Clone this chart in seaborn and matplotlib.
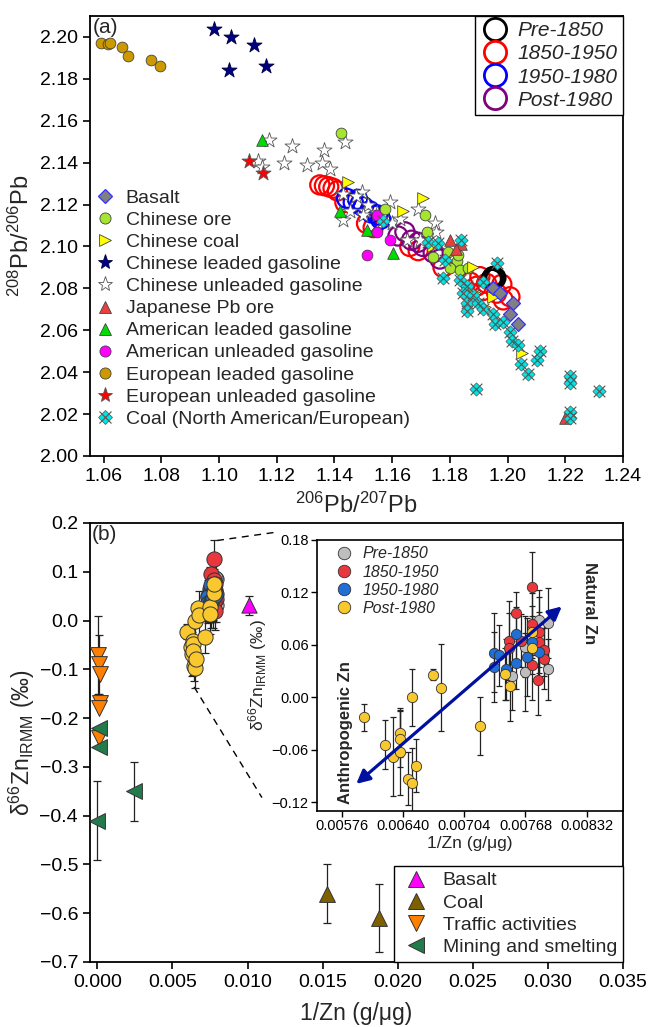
import numpy as np
import pandas as pd
import matplotlib
matplotlib.use("Agg")
import matplotlib.pyplot as plt
from matplotlib.lines import Line2D
import seaborn as sns

# ---------------- Panel (a) data: 206Pb/207Pb vs 208Pb/206Pb ----------------
basalt_x = [1.1950, 1.1973, 1.2020, 1.2008, 1.2037]
basalt_y = [2.080, 2.078, 2.073, 2.068, 2.063]
cn_ore_x = [1.1424, 1.1575, 1.1713, 1.1719, 1.1742, 1.1794, 1.1823, 1.1800, 1.1835, 1.1863, 1.1829]
cn_ore_y = [2.154, 2.118, 2.115, 2.107, 2.095, 2.0975, 2.093, 2.0896, 2.089, 2.0896, 2.096]
cn_coal_x = [1.1447, 1.1707, 1.1638, 1.1740, 1.1880, 1.1887, 1.1950, 1.1921, 1.2049]
cn_coal_y = [2.131, 2.123, 2.117, 2.100, 2.090, 2.0777, 2.076, 2.071, 2.049]
cn_leaded_x = [1.0983, 1.1043, 1.1121, 1.1164, 1.1034]
cn_leaded_y = [2.204, 2.200, 2.196, 2.186, 2.184]
cn_unleaded_x = [1.1173, 1.1253, 1.1363, 1.1436, 1.1224, 1.1135, 1.1147, 1.1303, 1.1355, 1.1384,
                 1.1430, 1.1494, 1.1476, 1.1505, 1.1517, 1.1453, 1.1430, 1.1499, 1.1546, 1.1592,
                 1.1600, 1.1627, 1.1690, 1.1748, 1.1753, 1.1696, 1.1650]
cn_unleaded_y = [2.151, 2.148, 2.146, 2.150, 2.140, 2.141, 2.138, 2.139, 2.140, 2.137,
                 2.125, 2.126, 2.124, 2.117, 2.120, 2.117, 2.1127, 2.115, 2.116, 2.121,
                 2.111, 2.113, 2.118, 2.111, 2.107, 2.103, 2.103]
jp_ore_x = [1.1800, 1.1840, 1.1820, 1.2199]
jp_ore_y = [2.103, 2.101, 2.099, 2.018]
am_leaded_x = [1.1150, 1.1418, 1.1511, 1.1603]
am_leaded_y = [2.151, 2.117, 2.108, 2.097]
am_unleaded_x = [1.1511, 1.1546, 1.1592, 1.1546]
am_unleaded_y = [2.096, 2.107, 2.103, 2.115]
eu_leaded_x = [1.0592, 1.0615, 1.0623, 1.0663, 1.0684, 1.0763, 1.0794]
eu_leaded_y = [2.197, 2.1965, 2.197, 2.195, 2.191, 2.189, 2.186]
eu_unleaded_x = [1.1103, 1.1152]
eu_unleaded_y = [2.141, 2.135]
coal_x = [1.1568, 1.1725, 1.1760, 1.1783, 1.1840, 1.1777, 1.1835, 1.1858, 1.1846, 1.1881,
          1.1858, 1.1898, 1.1858, 1.1915, 1.1950, 1.1956, 1.1985, 1.2008, 1.2014, 1.2037,
          1.2048, 1.2072, 1.2101, 1.2112, 1.1892, 1.2216, 1.2216, 1.2318, 1.2216, 1.2216,
          1.1962, 1.1914]
coal_y = [2.112, 2.102, 2.1015, 2.0936, 2.103, 2.085, 2.084, 2.081, 2.078, 2.077,
          2.073, 2.073, 2.069, 2.070, 2.068, 2.063, 2.064, 2.059, 2.055, 2.053,
          2.044, 2.039, 2.046, 2.050, 2.032, 2.038, 2.035, 2.031, 2.021, 2.018,
          2.092, 2.083]
# soil cores (open rings)
pre1850_x = [1.1945, 1.1950, 1.1958]
pre1850_y = [2.0845, 2.0855, 2.0850]
r1850_x = [1.1349, 1.1365, 1.1380, 1.1395, 1.1410, 1.1436, 1.1511, 1.1534, 1.1661, 1.1690,
           1.1776, 1.1870, 1.1892, 1.1904, 1.1927, 1.1962, 1.1985, 1.2008, 1.1980, 1.1915]
r1850_y = [2.1294, 2.1290, 2.1285, 2.1278, 2.1265, 2.1210, 2.111, 2.109, 2.100, 2.098,
           2.090, 2.083, 2.081, 2.0856, 2.0824, 2.0777, 2.0745, 2.076, 2.082, 2.079]
b1950_x = [1.1442, 1.1465, 1.1480, 1.1488, 1.1500, 1.1522, 1.1528, 1.1550, 1.1560]
b1950_y = [2.123, 2.121, 2.1225, 2.120, 2.119, 2.117, 2.116, 2.115, 2.113]
p1980_x = [1.1620, 1.1644, 1.1667, 1.1690, 1.1707, 1.1742, 1.1765]
p1980_y = [2.105, 2.107, 2.103, 2.102, 2.100, 2.097, 2.094]

a_xticks = [1.06, 1.08, 1.10, 1.12, 1.14, 1.16, 1.18, 1.20, 1.22, 1.24]
a_xticklabels = ["1.06", "1.08", "1.10", "1.12", "1.14", "1.16", "1.18", "1.20", "1.22", "1.24"]
a_yticks = [2.00, 2.02, 2.04, 2.06, 2.08, 2.10, 2.12, 2.14, 2.16, 2.18, 2.20]
a_yticklabels = ["2.00", "2.02", "2.04", "2.06", "2.08", "2.10", "2.12", "2.14", "2.16", "2.18", "2.20"]

# ---------------- Panel (b) data: 1/Zn vs d66Zn ----------------
pre_zx = [0.00792, 0.00792, 0.00768, 0.00768, 0.00782, 0.00754]
pre_zy = [0.085, 0.032, 0.029, 0.058, 0.088, 0.025]
pre_err = [0.040, 0.035, 0.045, 0.035, 0.035, 0.040]
red_zx = [0.00775, 0.00758, 0.00775, 0.00782, 0.00751, 0.00763, 0.00751, 0.00782, 0.00787, 0.00787, 0.00775, 0.00781]
red_zy = [0.126, 0.096, 0.084, 0.075, 0.065, 0.065, 0.056, 0.063, 0.054, 0.044, 0.037, 0.020]
red_err = [0.040, 0.025, 0.035, 0.040, 0.045, 0.030, 0.040, 0.035, 0.030, 0.035, 0.040, 0.040]
blue_zx = [0.00758, 0.00735, 0.00740, 0.00735, 0.00758, 0.00748, 0.00770, 0.00775, 0.00782]
blue_zy = [0.073, 0.051, 0.048, 0.035, 0.039, 0.032, 0.046, 0.063, 0.052]
blue_err = [0.030, 0.045, 0.035, 0.040, 0.030, 0.035, 0.045, 0.030, 0.035]
yel_zx = [0.00599, 0.00621, 0.00629, 0.00637, 0.00637, 0.00637, 0.00645, 0.00649, 0.00654,
          0.00649, 0.00671, 0.00680, 0.00720, 0.00747, 0.00752, 0.00775, 0.00775]
yel_zy = [-0.023, -0.054, -0.068, -0.041, -0.048, -0.062, -0.093, -0.098, -0.078,
          0.000, 0.026, 0.011, -0.033, 0.027, 0.013, 0.057, 0.075]
yel_err = [0.015, 0.028, 0.045, 0.027, 0.032, 0.050, 0.030, 0.040, 0.030,
           0.033, 0.006, 0.050, 0.033, 0.030, 0.040, 0.030, 0.030]

basalt_zx = [0.0101]
basalt_zy = [0.031]
basalt_err = [0.020]
coalb_zx = [0.01527, 0.01873]
coalb_zy = [-0.56, -0.61]
coalb_err = [0.06, 0.07]
traffic_zx = [0.00005, 0.00010, 0.00015, 0.00020, 0.00010, 0.00010]
traffic_zy = [-0.07, -0.09, -0.11, -0.17, -0.18, -0.24]
traffic_err = [0.08, 0.06, 0.0, 0.0, 0.0, 0.0]
mining_zx = [0.0001, 0.0001, 0.0000, 0.00246]
mining_zy = [-0.22, -0.26, -0.41, -0.35]
mining_err = [0.0, 0.0, 0.08, 0.06]

b_xticks = [0.000, 0.005, 0.010, 0.015, 0.020, 0.025, 0.030, 0.035]
b_xticklabels = ["0.000", "0.005", "0.010", "0.015", "0.020", "0.025", "0.030", "0.035"]
b_yticks = [-0.7, -0.6, -0.5, -0.4, -0.3, -0.2, -0.1, 0.0, 0.1, 0.2]
b_yticklabels = ["\u22120.7", "\u22120.6", "\u22120.5", "\u22120.4", "\u22120.3", "\u22120.2", "\u22120.1", "0.0", "0.1", "0.2"]
in_xticks = [0.00576, 0.00640, 0.00704, 0.00768, 0.00832]
in_xticklabels = ["0.00576", "0.00640", "0.00704", "0.00768", "0.00832"]
in_yticks = [-0.12, -0.06, 0.00, 0.06, 0.12, 0.18]
in_yticklabels = ["\u22120.12", "\u22120.06", "0.00", "0.06", "0.12", "0.18"]

# ---------------- style ----------------
sns.set_style("ticks")
plt.rcParams['font.family'] = ['Liberation Sans', 'DejaVu Sans']
plt.rcParams['mathtext.fontset'] = 'custom'
plt.rcParams['mathtext.rm'] = 'Liberation Sans'
plt.rcParams['mathtext.it'] = 'Liberation Sans:italic'
plt.rcParams['axes.edgecolor'] = 'black'
plt.rcParams['axes.linewidth'] = 1.3
plt.rcParams['xtick.color'] = 'black'
plt.rcParams['ytick.color'] = 'black'

fig = plt.figure(figsize=(6.51, 10.27), dpi=100)
ax_a = fig.add_axes([0.138, 0.556, 0.819, 0.4284])
ax_b = fig.add_axes([0.138, 0.0633, 0.819, 0.4275])
ax_in = fig.add_axes([0.487, 0.2103, 0.470, 0.2639])

EC = '#444444'


def sc(ax, x, y, marker, s, fc, ec=EC, lw=0.6, z=3):
    sns.scatterplot(x=x, y=y, ax=ax, marker=marker, s=s, color=fc, edgecolor=ec,
                    linewidth=lw, zorder=z, legend=False)


def ring(ax, x, y, c, s=190, lw=1.6, z=2):
    sns.scatterplot(x=x, y=y, ax=ax, marker='o', s=s, facecolors='none', edgecolor=c,
                    linewidth=lw, zorder=z, legend=False)


# ---------------- Panel (a) ----------------
ring(ax_a, r1850_x, r1850_y, '#FF0000')
ring(ax_a, b1950_x, b1950_y, '#0000FF')
ring(ax_a, p1980_x, p1980_y, '#800080')
ring(ax_a, pre1850_x, pre1850_y, '#000000', lw=2.2)

sc(ax_a, eu_leaded_x, eu_leaded_y, 'o', 60, '#CC9900')
sc(ax_a, cn_leaded_x, cn_leaded_y, '*', 130, '#000080', ec='#000040')
sc(ax_a, cn_unleaded_x, cn_unleaded_y, '*', 130, 'white', ec='#555555')
sc(ax_a, eu_unleaded_x, eu_unleaded_y, '*', 130, '#FF0000', ec='#555555')
sc(ax_a, am_leaded_x, am_leaded_y, '^', 70, '#00DD00')
sc(ax_a, am_unleaded_x, am_unleaded_y, 'o', 60, '#FF00FF')
sc(ax_a, cn_ore_x, cn_ore_y, 'o', 60, '#A5E52F')
sc(ax_a, cn_coal_x, cn_coal_y, '>', 70, '#FFFF00')
sc(ax_a, jp_ore_x, jp_ore_y, '^', 70, '#E84040')
sc(ax_a, coal_x, coal_y, 'D', 45, '#00E5E5', ec='#555555', lw=0.5, z=4)
sns.scatterplot(x=coal_x, y=coal_y, ax=ax_a, marker='x', s=70, color='#555555',
                linewidth=0.8, zorder=4, legend=False)
sc(ax_a, basalt_x, basalt_y, 'D', 50, '#808080', ec='#3333FF', lw=0.9, z=5)

ax_a.set_xlim(1.0552, 1.24)
ax_a.set_ylim(2.0, 2.21)
ax_a.set_xticks(a_xticks)
ax_a.set_xticklabels(a_xticklabels)
ax_a.set_yticks(a_yticks)
ax_a.set_yticklabels(a_yticklabels)
ax_a.tick_params(labelsize=14, length=5, width=1.2)
ax_a.set_xlabel(r"$^{206}$Pb/$^{207}$Pb", fontsize=17, labelpad=6)
ax_a.set_ylabel(r"$^{208}$Pb/$^{206}$Pb", fontsize=17, labelpad=4)
ax_a.text(0.006, 0.995, "(a)", transform=ax_a.transAxes, fontsize=15, va='top', ha='left')


def mk(marker, fc, ec=EC, ms=8, mew=0.6):
    return Line2D([], [], linestyle='', marker=marker, markersize=ms, markerfacecolor=fc,
                  markeredgecolor=ec, markeredgewidth=mew)


src_labels = ["Basalt", "Chinese ore", "Chinese coal", "Chinese leaded gasoline",
              "Chinese unleaded gasoline", "Japanese Pb ore", "American leaded gasoline",
              "American unleaded gasoline", "European leaded gasoline",
              "European unleaded gasoline", "Coal (North American/European)"]
src_handles = [mk('D', '#808080', '#3333FF', 7, 0.9), mk('o', '#A5E52F'), mk('>', '#FFFF00'),
               mk('*', '#000080', '#000040', 11), mk('*', 'white', '#555555', 11),
               mk('^', '#E84040'), mk('^', '#00DD00'), mk('o', '#FF00FF'), mk('o', '#CC9900'),
               mk('*', '#FF0000', '#555555', 11),
               (mk('D', '#00E5E5', '#555555', 7, 0.5),
                Line2D([], [], linestyle='', marker='x', markersize=9, color='#555555', markeredgewidth=0.8))]
leg1 = ax_a.legend(src_handles, src_labels, loc='upper left', bbox_to_anchor=(0.0, 0.615),
                   frameon=False, fontsize=14, handletextpad=0.45, labelspacing=0.23,
                   handlelength=1.2, borderaxespad=0, borderpad=0.2)
ax_a.add_artist(leg1)

per_labels = ["Pre-1850", "1850-1950", "1950-1980", "Post-1980"]
per_colors_a = ['#000000', '#FF0000', '#0000FF', '#800080']
per_handles = [Line2D([], [], linestyle='', marker='o', markersize=16, markerfacecolor='none',
                      markeredgecolor=c, markeredgewidth=2) for c in per_colors_a]
leg2 = ax_a.legend(per_handles, per_labels, loc='upper right', frameon=True, fancybox=False,
                   edgecolor='black', framealpha=1, borderaxespad=0,
                   prop={'style': 'italic', 'size': 15}, handletextpad=0.4,
                   labelspacing=0.2, handlelength=1.4, borderpad=0.25)
leg2.get_frame().set_linewidth(1.0)

# ---------------- Panel (b) main ----------------
def eb(ax, x, y, e, lw=0.9, cap=3):
    x = np.asarray(x); y = np.asarray(y); e = np.asarray(e)
    m = e > 0
    if m.any():
        ax.errorbar(x[m], y[m], yerr=e[m], fmt='none', ecolor='#222222', elinewidth=lw,
                    capsize=cap, capthick=lw, zorder=1)


per_colors_b = ['#BEBEBE', '#E8383D', '#1F6FD6', '#F9C82E']
soil = [(pre_zx, pre_zy, pre_err), (red_zx, red_zy, red_err),
        (blue_zx, blue_zy, blue_err), (yel_zx, yel_zy, yel_err)]

for (x, y, e), c in zip(soil, per_colors_b):
    eb(ax_b, x, y, e)
for (x, y, e), c in zip(soil, per_colors_b):
    sc(ax_b, x, y, 'o', 120, c, ec='#333333', lw=0.7)

eb(ax_b, basalt_zx, basalt_zy, basalt_err)
eb(ax_b, coalb_zx, coalb_zy, coalb_err)
eb(ax_b, traffic_zx, traffic_zy, traffic_err)
eb(ax_b, mining_zx, mining_zy, mining_err)
sc(ax_b, basalt_zx, basalt_zy, '^', 120, '#FF00FF', ec='#333333', lw=0.7)
sc(ax_b, coalb_zx, coalb_zy, '^', 130, '#7F6000', ec='#333333', lw=0.7)
sc(ax_b, traffic_zx, traffic_zy, 'v', 130, '#FF7F00', ec='#333333', lw=0.7)
sc(ax_b, mining_zx, mining_zy, '<', 130, '#237B4B', ec='#333333', lw=0.7)

# dashed zoom connectors
ax_b.plot([0.00797, 0.01189], [0.164, 0.181], linestyle=(0, (5, 4)), color='black', lw=1.0, zorder=0)
ax_b.plot([0.00644, 0.01096], [-0.136, -0.363], linestyle=(0, (5, 4)), color='black', lw=1.0, zorder=0)

ax_b.set_xlim(-0.0005, 0.035)
ax_b.set_ylim(-0.7, 0.2)
ax_b.set_xticks(b_xticks)
ax_b.set_xticklabels(b_xticklabels)
ax_b.set_yticks(b_yticks)
ax_b.set_yticklabels(b_yticklabels)
ax_b.tick_params(labelsize=14, length=5, width=1.2)
ax_b.set_xlabel("1/Zn (g/\u03bcg)", fontsize=16.5, labelpad=8)
ax_b.set_ylabel(r"δ$^{66}$Zn$_{\mathrm{IRMM}}$ (‰)", fontsize=16.5, labelpad=2)
ax_b.text(0.004, 0.995, "(b)", transform=ax_b.transAxes, fontsize=15, va='top', ha='left')

b_labels = ["Basalt", "Coal", "Traffic activities", "Mining and smelting"]
b_handles = [mk('^', '#FF00FF', '#333333', 12, 0.7), mk('^', '#7F6000', '#333333', 12, 0.7),
             mk('v', '#FF7F00', '#333333', 12, 0.7), mk('<', '#237B4B', '#333333', 12, 0.7)]
leg3 = ax_b.legend(b_handles, b_labels, loc='lower right', frameon=True, fancybox=False,
                   edgecolor='black', framealpha=1, borderaxespad=0, fontsize=14,
                   handletextpad=0.6, labelspacing=0.24, handlelength=1.6, borderpad=0.3)
leg3.get_frame().set_linewidth(1.0)

# ---------------- Inset ----------------
ax_in.set_facecolor('white')
for (x, y, e), c in zip(soil, per_colors_b):
    eb(ax_in, x, y, e, lw=0.9, cap=2.5)
for (x, y, e), c in zip(soil, per_colors_b):
    sc(ax_in, x, y, 'o', 55, c, ec='#333333', lw=0.6)

ax_in.annotate("", xy=(0.00806, 0.104), xytext=(0.00591, -0.099),
               arrowprops=dict(arrowstyle='<|-|>', color='#0010A0', lw=2.3,
                               mutation_scale=20, shrinkA=0, shrinkB=0), zorder=5)
ax_in.text(0.89, 0.767, "Natural Zn", transform=ax_in.transAxes, rotation=270,
           fontsize=12, fontweight='bold', ha='center', va='center')
ax_in.text(0.094, 0.29, "Anthropogenic Zn", transform=ax_in.transAxes, rotation=90,
           fontsize=12, fontweight='bold', ha='center', va='center')

ax_in.set_xlim(0.0055, 0.0087)
ax_in.set_ylim(-0.13, 0.18)
ax_in.set_xticks(in_xticks)
ax_in.set_xticklabels(in_xticklabels)
ax_in.set_yticks(in_yticks)
ax_in.set_yticklabels(in_yticklabels)
ax_in.tick_params(labelsize=10.5, length=4, width=1.0, pad=2)
ax_in.set_xlabel("1/Zn (g/\u03bcg)", fontsize=12.5, labelpad=2)
ax_in.set_ylabel(r"δ$^{66}$Zn$_{\mathrm{IRMM}}$ (‰)", fontsize=12.5, labelpad=2)
for sp in ax_in.spines.values():
    sp.set_linewidth(1.2)

in_handles = [Line2D([], [], linestyle='', marker='o', markersize=9, markerfacecolor=c,
                     markeredgecolor='#333333', markeredgewidth=0.6) for c in per_colors_b]
ax_in.legend(in_handles, per_labels, loc='upper left', bbox_to_anchor=(0.04, 1.0),
             frameon=False, prop={'style': 'italic', 'size': 11.5}, handletextpad=0.7,
             labelspacing=0.2, handlelength=1.0, borderaxespad=0, borderpad=0.4)

fig.savefig("out.png", dpi=100)
